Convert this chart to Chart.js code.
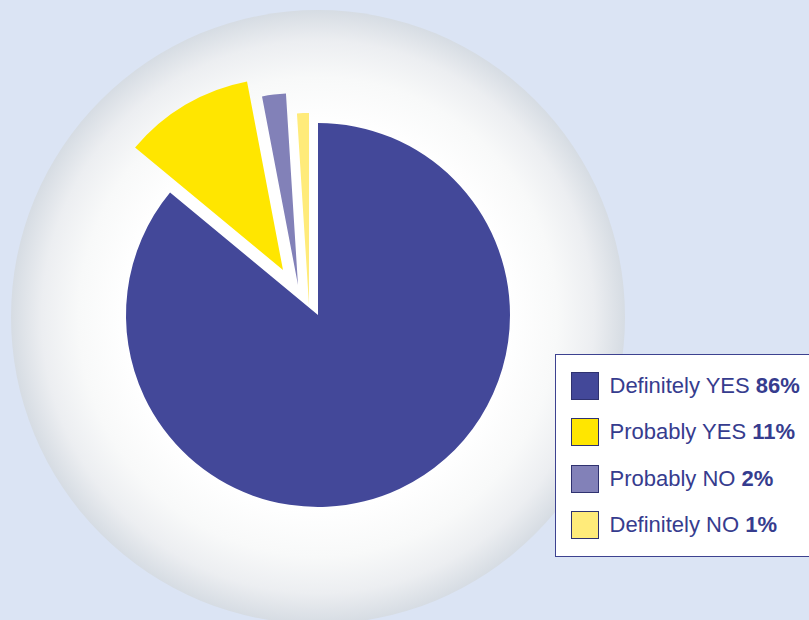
<!DOCTYPE html>
<html>
<head>
<meta charset="utf-8">
<script src="https://cdn.jsdelivr.net/npm/chart.js@4.4.0/dist/chart.umd.min.js"></script>
<style>
html, body { margin: 0; padding: 0; }
body {
    width: 809px; height: 620px; overflow: hidden; position: relative;
    background: #dbe4f4;
    font-family: "Liberation Sans", Arial, sans-serif;
}
#halo {
    position: absolute; left: 11px; top: 10px; width: 614px; height: 614px;
    border-radius: 50%;
    background: radial-gradient(circle closest-side, #ffffff 0%, #ffffff 62%, #f8f9f9 78%, #eceef1 90%, #d6dce3 100%);
}
#chartWrap { position: absolute; left: 0; top: 0; width: 809px; height: 620px; }
#legend {
    position: absolute; left: 555px; top: 354px; width: 280px; height: 203px;
    box-sizing: border-box; background: #fff; border: 1.5px solid #3d4290;
    padding: 17px 0 0 14.5px;
    display: flex; flex-direction: column; gap: 18.3px;
}
.row { display: flex; align-items: center; height: 28px; color: #363c8e; font-size: 22px; white-space: nowrap; }
.box { width: 28px; height: 28px; box-sizing: border-box; border: 1.5px solid #2f3270; margin-right: 11px; }
.row b { font-weight: bold; }
</style>
</head>
<body>
<div id="halo"></div>
<div id="chartWrap"><canvas id="myChart" width="809" height="620"></canvas></div>
<div id="legend"></div>
<script>
const labels = ['Definitely YES', 'Probably YES', 'Probably NO', 'Definitely NO'];
const values = [86, 11, 2, 1];
const colors = ['#434899', '#ffe600', '#8281b8', '#ffeb7a'];
// how far each slice is pulled out of the pie (px)
const sliceShift = [[0, 0], [-35, -45], [-20, -30], [-9, -10]];

const shiftPlugin = {
    id: 'shift',
    afterDatasetsUpdate(chart) {
        const meta = chart.getDatasetMeta(0);
        meta.data.forEach(function(arc, i) {
            arc.x += sliceShift[i][0];
            arc.y += sliceShift[i][1];
        });
    }
};

const ctx = document.getElementById('myChart').getContext('2d');
const myChart = new Chart(ctx, {
    type: 'pie',
    data: {
        labels: labels,
        datasets: [{
            data: values,
            backgroundColor: colors,
            borderWidth: 0
        }]
    },
    options: {
        responsive: false,
        animation: false,
        layout: { padding: { left: 126, right: 299, top: 123, bottom: 113 } },
        plugins: {
            legend: { display: false },
            tooltip: { enabled: false }
        }
    },
    plugins: [shiftPlugin]
});

// legend with bold percentages
const legend = document.getElementById('legend');
labels.forEach(function(label, i) {
    const row = document.createElement('div');
    row.className = 'row';
    row.innerHTML = '<span class="box" style="background:' + colors[i] + '"></span>' +
        '<span>' + label + ' <b>' + values[i] + '%</b></span>';
    legend.appendChild(row);
});
</script>
</body>
</html>
